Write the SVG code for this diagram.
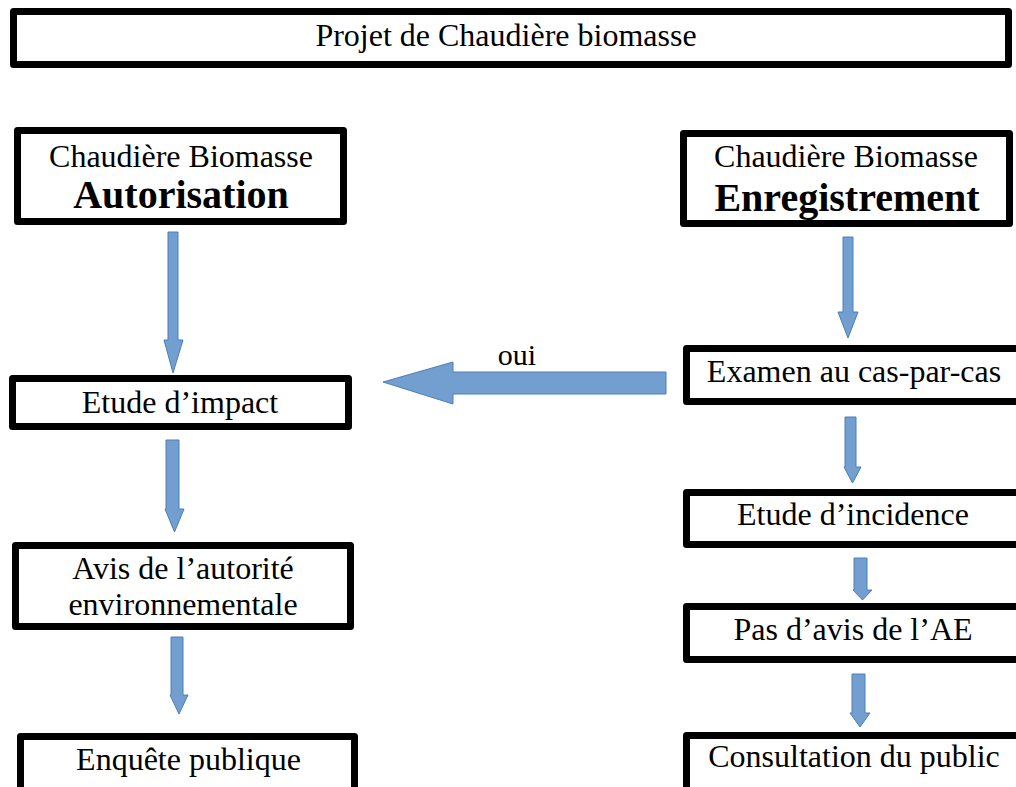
<svg xmlns="http://www.w3.org/2000/svg" width="1016" height="787" viewBox="0 0 1016 787">
<style>
.box{fill:#fff;stroke:#000;stroke-width:7;stroke-linejoin:round}
.t{font-family:"Liberation Serif","Times New Roman",serif;font-size:32px;fill:#000;text-anchor:middle}
.b{font-weight:bold;font-size:40px}
.arr{fill:#729fcf;stroke:#4a7ebb;stroke-width:1}
</style>
<rect width="1016" height="787" fill="#fff"/>
<g id="connectors">
<polygon class="arr" points="168,232 178,232 178,340 183,340 173,373 164,340 168,340"/>
<polygon class="arr" points="166,440 179,440 179,509 184,509 174.5,532 165,509 166,509"/>
<polygon class="arr" points="171,637 183,637 183,695 188,695 179,714 170,695 171,695"/>
<polygon class="arr" points="843,237 853,237 853,312 858,312 848,338 838,312 843,312"/>
<polygon class="arr" points="845,417 856,417 856,467 861,467 852.5,483 844,467 845,467"/>
<polygon class="arr" points="854,558 867,558 867,590 872,590 862.5,600 853,590 854,590"/>
<polygon class="arr" points="852,674 865,674 865,713 870,713 860,727 850,713 852,713"/>
<polygon class="arr" points="666,372 453,372 453,362 383,382 453,404 453,394 666,394"/>
<text class="t" x="517" y="365" style="font-size:30px">oui</text>
</g>
<g id="title">
<rect class="box" x="13.5" y="11.5" width="995" height="53"/>
<text class="t" x="506" y="46">Projet de Chaudière biomasse</text>
</g>
<g id="autorisation">
<rect class="box" x="17.5" y="130.5" width="326" height="91"/>
<text class="t" x="181" y="167">Chaudière Biomasse</text>
<text class="t b" x="181" y="208">Autorisation</text>
</g>
<g id="etude-impact">
<rect class="box" x="12.5" y="378.5" width="336" height="48"/>
<text class="t" x="180" y="413">Etude d’impact</text>
</g>
<g id="avis-ae">
<rect class="box" x="15.5" y="545.5" width="335" height="81"/>
<text class="t" x="183" y="579">Avis de l’autorité</text>
<text class="t" x="183" y="615">environnementale</text>
</g>
<g id="enquete">
<rect class="box" x="20.5" y="736.5" width="334" height="70"/>
<text class="t" x="188.5" y="770">Enquête publique</text>
</g>
<g id="enregistrement">
<rect class="box" x="683.5" y="133.5" width="326" height="90"/>
<text class="t" x="846" y="167">Chaudière Biomasse</text>
<text class="t b" x="847" y="211">Enregistrement</text>
</g>
<g id="examen">
<rect class="box" x="686.5" y="348.5" width="340" height="53"/>
<text class="t" x="854" y="382">Examen au cas-par-cas</text>
</g>
<g id="etude-incidence">
<rect class="box" x="686.5" y="492.5" width="340" height="52"/>
<text class="t" x="853" y="525">Etude d’incidence</text>
</g>
<g id="pas-avis">
<rect class="box" x="686.5" y="606.5" width="340" height="53"/>
<text class="t" x="853" y="640">Pas d’avis de l’AE</text>
</g>
<g id="consultation">
<rect class="box" x="686.5" y="735.5" width="340" height="70"/>
<text class="t" x="854" y="767">Consultation du public</text>
</g>
</svg>
